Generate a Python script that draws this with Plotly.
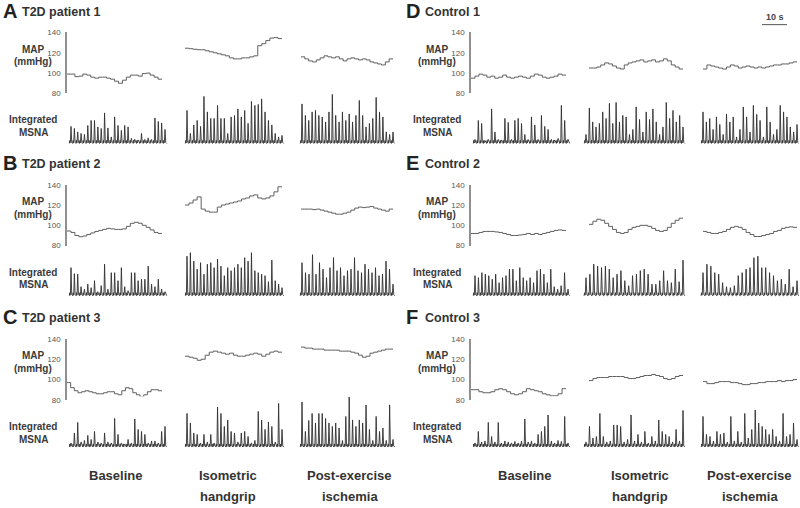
import numpy as np
import plotly.graph_objects as go

# ---------------- DATA ----------------
PANEL_LETTERS = ["A", "B", "C", "D", "E", "F"]
PANEL_TITLES = ["T2D patient 1", "T2D patient 2", "T2D patient 3",
                "Control 1", "Control 2", "Control 3"]
CONDITION_LINES = [["Baseline"], ["Isometric", "handgrip"], ["Post-exercise", "ischemia"]]
MAP_TICKS = [80, 100, 120, 140]
SCALE_BAR_S = 10

# MAP (mmHg), one value per step: baseline, handgrip, post-exercise ischemia
MAP_A_BL = [99, 99, 96.5, 97, 99, 98, 96, 95, 96, 96, 95, 94, 92, 90, 93, 96, 98, 98, 97, 99.5, 100, 98, 96, 94]
MAP_A_HG = [124.5, 124, 123.5, 123, 123, 122, 121, 120, 119, 118, 117, 115, 114, 114, 115, 115, 116, 117, 127, 129, 132, 134.5, 135, 134]
MAP_A_PEI = [116, 114, 112, 111, 113, 115, 117, 116, 115, 116, 114, 112, 114, 115, 114, 113, 114, 113, 111, 110, 109, 108, 111, 114]

MAP_B_BL = [94.4, 93, 90, 88.8, 89.5, 91, 92.5, 94, 95, 96, 97, 96.5, 96, 96, 96.5, 99, 102, 103, 102, 100, 98, 95.5, 93, 92]
MAP_B_HG = [120, 122, 125, 128, 116, 114, 113, 113, 118, 120, 121, 122, 123, 124, 126, 127, 129, 130, 127, 126, 127, 129, 133, 138]
MAP_B_PEI = [116, 116, 116, 115.5, 116, 115, 114, 113, 112, 111, 111, 112, 113, 115, 117, 118, 117.5, 118, 118.5, 117, 116, 115, 114, 116]

MAP_C_BL = [97, 92, 89, 87, 88, 89, 88, 87, 86, 86, 87, 88, 88, 86, 85, 89, 92, 91, 87, 85, 83, 85, 88, 90, 90, 89]
MAP_C_HG = [123, 122, 121, 119, 120, 124, 127, 128, 127, 126, 125, 126, 124, 123, 123, 124, 125, 126, 125, 123, 125, 127, 128, 127]
MAP_C_PEI = [132, 131, 131, 130, 130, 130, 129, 129, 129, 129, 128, 128, 128, 127, 126, 124, 122, 123, 126, 127, 128, 129, 130, 130]

MAP_D_BL = [95, 97, 99, 98, 96, 97, 95, 96, 98, 96, 95, 96, 97, 96, 95, 97, 99, 98, 96, 95, 96, 97, 99, 98]
MAP_D_HG = [105, 105, 106, 108, 110, 109, 107, 105, 104, 108, 110, 111, 112, 113, 111, 112, 113, 111, 112, 114, 112, 108, 106, 104]
MAP_D_PEI = [104, 108, 107, 106, 105, 104, 106, 108, 107, 105, 106, 107, 106, 105, 106, 105, 106, 107, 108, 108, 109, 109, 110, 111]

MAP_E_BL = [92, 92, 93, 94, 94, 94, 93.5, 93, 92, 91, 90, 90, 90.5, 91, 92, 91, 92, 91, 92, 93, 94, 95, 95.5, 95]
MAP_E_HG = [101, 104, 106, 105, 102, 99, 96, 93, 92, 93, 96, 98, 99, 100, 100, 99, 97, 95, 94, 95, 98, 102, 105, 107]
MAP_E_PEI = [94, 93, 92, 92, 93, 94, 96, 98, 99, 98, 96, 93, 91, 89, 89, 90, 91, 92, 94, 95, 97, 98, 98.5, 98]

MAP_F_BL = [90, 90, 88, 87, 87, 88, 90, 91, 90, 88, 86, 85, 86, 88, 91, 90, 89, 88, 86, 85, 84, 84, 86, 91]
MAP_F_HG = [99, 101, 102, 102, 102, 103, 103, 103, 103, 102, 101, 101, 102, 103, 104, 104, 105, 104, 103, 101, 100, 101, 103, 104]
MAP_F_PEI = [98, 96, 96, 97, 98, 98, 98, 97, 97, 96, 95, 95, 96, 96, 97, 97, 98, 98, 98, 99, 98, 99, 99, 100]

# Integrated MSNA, peak height per cardiac beat (arbitrary units, 0-10)
MSNA_A_BL = [3.6, 3.2, 2.5, 2.2, 2.0, 3.8, 4.8, 4.8, 3.5, 3.2, 6.3, 3.3, 1.5, 5.5, 3.8, 2.8, 3.8, 3.5, 1.2, 1.0, 0.9, 2.2, 1.0, 1.3, 1.0, 5.3, 4.6, 4.3, 3.0]
MSNA_A_HG = [6.8, 2.2, 3.9, 4.8, 3.6, 9.6, 6.5, 5.2, 5.2, 7.8, 5.2, 5.2, 2.2, 5.5, 5.8, 7.1, 5.5, 6.8, 4.2, 8.6, 7.8, 8.0, 9.1, 6.5, 4.8, 3.9, 2.2, 1.5, 1.8]
MSNA_A_PEI = [8.1, 5.8, 4.8, 6.5, 6.8, 5.8, 5.5, 4.5, 6.5, 10.0, 5.8, 4.5, 6.5, 4.8, 6.1, 4.5, 5.8, 8.8, 5.8, 3.5, 4.2, 5.2, 9.4, 6.5, 5.5, 2.5, 2.0, 2.5]

MSNA_B_BL = [5.8, 4.6, 4.5, 2.0, 1.5, 2.5, 1.8, 3.2, 1.0, 2.2, 6.5, 1.5, 4.8, 4.8, 3.2, 5.8, 2.0, 1.2, 4.8, 4.8, 3.2, 3.5, 3.5, 6.1, 2.5, 2.0, 3.5, 1.5, 1.0]
MSNA_B_HG = [8.1, 8.8, 7.1, 5.5, 6.8, 4.5, 6.5, 6.8, 5.8, 7.5, 6.1, 4.2, 5.8, 5.2, 5.8, 6.5, 5.8, 7.8, 7.1, 8.8, 5.2, 4.8, 4.5, 4.2, 3.0, 7.3, 3.2, 2.5, 1.8]
MSNA_B_PEI = [6.8, 4.8, 4.5, 8.4, 4.5, 6.8, 5.5, 3.8, 5.8, 7.8, 5.2, 5.8, 4.2, 5.2, 5.5, 7.8, 5.2, 4.8, 6.5, 5.5, 4.8, 5.8, 4.2, 4.5, 7.1, 5.5, 2.5]

MSNA_C_BL = [1.0, 3.0, 5.1, 1.2, 1.5, 2.5, 1.7, 3.3, 1.2, 1.0, 3.0, 1.2, 1.0, 5.9, 2.7, 1.0, 0.8, 1.7, 1.0, 5.8, 3.7, 3.3, 2.7, 1.0, 1.4, 1.4, 1.0, 3.3, 4.3]
MSNA_C_HG = [6.9, 5.0, 3.0, 2.7, 1.0, 2.7, 1.2, 2.7, 1.0, 8.2, 6.9, 4.3, 5.6, 3.3, 3.0, 1.2, 3.0, 3.3, 2.3, 1.0, 1.5, 7.3, 5.6, 3.7, 5.2, 4.3, 1.2, 8.9, 3.7]
MSNA_C_PEI = [9.2, 3.3, 5.5, 6.9, 5.0, 6.9, 6.9, 5.9, 5.0, 4.3, 5.0, 4.0, 1.5, 6.3, 10.2, 5.6, 4.3, 5.6, 5.0, 8.6, 3.7, 1.5, 6.3, 3.3, 4.0, 1.5, 8.6, 1.7]

MSNA_D_BL = [1.0, 4.8, 4.2, 0.8, 1.0, 7.1, 2.5, 1.0, 0.9, 5.2, 4.4, 1.0, 4.8, 5.2, 4.2, 2.0, 1.0, 5.5, 3.9, 1.0, 5.8, 3.6, 3.0, 1.0, 0.9, 1.2, 7.8, 4.8, 1.0]
MSNA_D_HG = [2.0, 7.3, 4.5, 3.5, 4.2, 6.5, 5.2, 8.2, 4.2, 8.4, 4.5, 5.8, 5.5, 2.0, 3.0, 7.5, 5.0, 2.5, 6.5, 5.0, 7.1, 4.5, 2.0, 3.5, 8.4, 5.2, 6.8, 4.5, 5.8, 3.5]
MSNA_D_PEI = [6.5, 4.5, 5.2, 3.0, 5.5, 4.0, 2.0, 6.1, 4.5, 5.5, 1.5, 3.0, 7.5, 5.5, 2.5, 7.8, 6.0, 4.8, 1.5, 7.5, 4.5, 2.0, 3.0, 7.8, 6.5, 5.5, 3.5, 2.5, 4.0]

MSNA_E_BL = [4.2, 3.8, 4.8, 4.5, 4.2, 3.5, 4.5, 2.8, 3.8, 4.2, 5.5, 5.5, 3.2, 5.8, 3.8, 3.2, 3.8, 2.8, 5.2, 5.5, 4.5, 2.8, 5.5, 2.0, 1.5, 2.2, 4.8, 1.5]
MSNA_E_HG = [3.8, 4.5, 6.5, 6.1, 5.8, 6.1, 5.5, 3.8, 4.5, 5.2, 3.2, 2.2, 4.2, 4.5, 5.2, 5.5, 4.5, 2.5, 2.5, 3.2, 5.2, 3.2, 2.8, 5.5, 3.0, 7.3]
MSNA_E_PEI = [4.8, 6.5, 6.1, 4.8, 4.5, 2.8, 2.0, 1.8, 2.2, 4.2, 4.8, 5.5, 5.8, 7.8, 8.1, 5.8, 5.8, 4.8, 4.2, 3.2, 3.5, 2.5, 5.5, 2.0, 3.2]

MSNA_F_BL = [1.0, 3.3, 1.2, 1.4, 5.1, 2.3, 1.2, 5.1, 1.0, 1.4, 1.2, 1.0, 1.3, 1.0, 1.4, 5.8, 1.2, 1.4, 1.0, 2.7, 3.3, 4.3, 6.6, 1.4, 1.0, 1.5, 1.3, 6.3, 1.0]
MSNA_F_HG = [1.2, 4.3, 2.0, 2.3, 6.9, 2.3, 1.2, 1.4, 4.6, 4.6, 4.3, 1.2, 1.7, 6.6, 1.4, 2.7, 1.2, 3.3, 1.0, 2.3, 1.4, 5.6, 3.3, 2.7, 2.3, 1.2, 3.7, 1.4, 7.5]
MSNA_F_PEI = [6.3, 2.7, 2.3, 1.4, 3.3, 2.7, 3.0, 1.2, 6.3, 1.4, 3.3, 1.2, 6.9, 2.0, 3.7, 7.6, 5.0, 4.3, 3.7, 2.7, 3.7, 2.3, 1.4, 6.9, 2.3, 2.7, 5.0, 1.7]

MAP_SERIES = [
    [MAP_A_BL, MAP_A_HG, MAP_A_PEI], [MAP_B_BL, MAP_B_HG, MAP_B_PEI], [MAP_C_BL, MAP_C_HG, MAP_C_PEI],
    [MAP_D_BL, MAP_D_HG, MAP_D_PEI], [MAP_E_BL, MAP_E_HG, MAP_E_PEI], [MAP_F_BL, MAP_F_HG, MAP_F_PEI],
]
MSNA_SERIES = [
    [MSNA_A_BL, MSNA_A_HG, MSNA_A_PEI], [MSNA_B_BL, MSNA_B_HG, MSNA_B_PEI], [MSNA_C_BL, MSNA_C_HG, MSNA_C_PEI],
    [MSNA_D_BL, MSNA_D_HG, MSNA_D_PEI], [MSNA_E_BL, MSNA_E_HG, MSNA_E_PEI], [MSNA_F_BL, MSNA_F_HG, MSNA_F_PEI],
]

# ---------------- LAYOUT / GEOMETRY ----------------
W, H = 800, 508
FONT = "Liberation Sans, Arial, Helvetica, sans-serif"
PX_PER_S = 2.5
XSPAN = 131.2                       # seconds shown on each column's time axis
AXIS_X = [67, 471]                  # pixel x of the MAP axis line per column
# time windows (s) of each condition segment, per column
MAP_SPANS = [[(0, 38), (47.2, 86), (93.6, 130.4)],
             [(0, 38), (47.2, 84.8), (92.8, 130.4)]]
MSNA_SPANS = [[(1.6, 39.2), (48.0, 86.0), (94.0, 130.4)],
              [(1.6, 38.8), (46.0, 84.8), (92.8, 130.4)]]
# per row: MAP top, MAP bottom, MSNA top, MSNA bottom (pixels)
ROWS = [(29, 91, 92, 143), (184, 246, 247, 298), (341, 403, 401, 452)]
LABEL_CENTERS = [[115.5, 227.5, 349.5], [524, 640, 749.5]]

# shape of one integrated-MSNA beat: (offset as fraction of beat interval, level)
# level None = the beat's peak height
BEAT_SHAPE = [(-0.5, 0.2), (-0.36, 0.8), (-0.26, 0.3), (-0.17, 0.6), (0.0, None), (0.22, 0.4)]

MAP_COLOR = "#606060"
MSNA_COLOR = "#303030"
TEXT_COLOR = "#333333"


def fx(px):
    return px / W


def fy(py):
    return 1 - py / H


fig = go.Figure()
layout = dict(width=W, height=H, margin=dict(l=0, r=0, t=0, b=0),
              paper_bgcolor="white", plot_bgcolor="white", showlegend=False,
              font=dict(family=FONT, color=TEXT_COLOR))
annotations = []
shapes = []

for k in range(6):
    col, row = k // 3, k % 3
    x0 = AXIS_X[col]
    xdom = [fx(x0), min(1.0, fx(x0 + XSPAN * PX_PER_S))]
    map_top, map_bot, msna_top, msna_bot = ROWS[row]
    ia, ib = 2 * k + 1, 2 * k + 2
    na = "" if ia == 1 else str(ia)
    nb = str(ib)

    # MAP axes
    layout["xaxis" + na] = dict(domain=xdom, range=[0, XSPAN], visible=False, anchor="y" + na)
    layout["yaxis" + na] = dict(domain=[fy(map_bot), fy(map_top)], range=[80, 140], anchor="x" + na,
                               tickvals=MAP_TICKS, ticks="", showgrid=False, zeroline=False,
                               showline=True, linecolor="#909090", linewidth=1.5,
                               tickfont=dict(size=8, color="#555", family=FONT),
                               ticklabelstandoff=3)
    # MSNA axes
    pad = 1.5
    layout["xaxis" + nb] = dict(domain=xdom, range=[0, XSPAN], visible=False, anchor="y" + nb)
    layout["yaxis" + nb] = dict(domain=[fy(msna_bot + pad), fy(msna_top - pad)],
                               range=[-0.3, 10.3], visible=False, anchor="x" + nb)

    for c in range(3):
        vals = MAP_SERIES[k][c]
        t0, t1 = MAP_SPANS[col][c]
        t = np.linspace(t0, t1, len(vals) + 1)
        fig.add_trace(go.Scatter(x=t, y=list(vals) + [vals[-1]], mode="lines",
                                 line=dict(color=MAP_COLOR, width=1.0, shape="hv"),
                                 xaxis="x" + na, yaxis="y" + na, hoverinfo="skip"))

        beats = MSNA_SERIES[k][c]
        s0, s1 = MSNA_SPANS[col][c]
        bt = np.linspace(s0, s1, len(beats))
        d = (s1 - s0) / (len(beats) - 1)
        xs, ys = [], []
        for tb, hb in zip(bt, beats):
            for off, lev in BEAT_SHAPE:
                xs.append(tb + off * d)
                ys.append(hb if lev is None else min(lev, hb))
        xs.append(bt[-1] + 0.5 * d)
        ys.append(0.2)
        fig.add_trace(go.Scatter(x=xs, y=ys, mode="lines",
                                 line=dict(color=MSNA_COLOR, width=0.9),
                                 xaxis="x" + nb, yaxis="y" + nb, hoverinfo="skip"))

    # side labels
    lx = x0 - 34
    for txt, dy in [("MAP", 17), ("(mmHg)", 30), ("Integrated", 89), ("MSNA", 102)]:
        annotations.append(dict(text="<b>%s</b>" % txt, x=fx(lx), y=fy(map_top + dy),
                                xref="paper", yref="paper", showarrow=False,
                                xanchor="center", yanchor="middle",
                                font=dict(size=10, color="#3a3a3a", family=FONT)))
    # panel letter + title
    ty = map_top - 22
    lx0 = 1 if col == 0 else 404
    annotations.append(dict(text="<b>%s</b>" % PANEL_LETTERS[k], x=fx(lx0), y=fy(ty),
                            xref="paper", yref="paper", showarrow=False,
                            xanchor="left", yanchor="middle",
                            font=dict(size=20, color="#222", family=FONT)))
    annotations.append(dict(text="<b>%s</b>" % PANEL_TITLES[k], x=fx(lx0 + 19), y=fy(ty + 1),
                            xref="paper", yref="paper", showarrow=False,
                            xanchor="left", yanchor="middle",
                            font=dict(size=12.5, color="#333", family=FONT)))

# condition labels at the bottom
for col in range(2):
    for c in range(3):
        for j, line in enumerate(CONDITION_LINES[c]):
            annotations.append(dict(text="<b>%s</b>" % line, x=fx(LABEL_CENTERS[col][c]),
                                    y=fy(480 + 21 * j), xref="paper", yref="paper",
                                    showarrow=False, xanchor="center", yanchor="middle",
                                    font=dict(size=13, color="#333", family=FONT)))

# 10 s scale bar on panel D's time axis
sb_end = 126.4
shapes.append(dict(type="line", xref="x7", yref="paper",
                   x0=sb_end - SCALE_BAR_S, x1=sb_end, y0=fy(21), y1=fy(21),
                   line=dict(color="#555", width=1)))
annotations.append(dict(text="<b>%d s</b>" % SCALE_BAR_S, x=sb_end - SCALE_BAR_S / 2, y=fy(13),
                        xref="x7", yref="paper", showarrow=False,
                        xanchor="center", yanchor="middle",
                        font=dict(size=9, color="#444", family=FONT)))

layout["annotations"] = annotations
layout["shapes"] = shapes
fig.update_layout(**layout)
fig.write_html("out.html", config={"displayModeBar": False},
               post_script="document.body.style.margin='0';document.body.style.overflow='hidden';")
